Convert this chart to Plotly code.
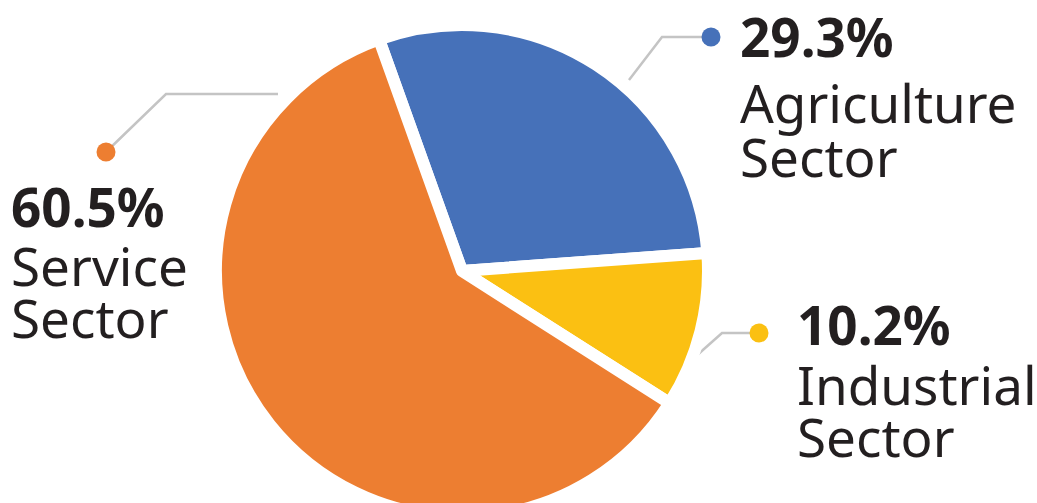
import plotly.graph_objects as go

# Employment share by sector (%)
sectors = ["Agriculture", "Industrial", "Service"]
shares = [29.3, 10.2, 60.5]
colors = ["#4671b9", "#fbc012", "#ed7e31"]

W, H = 1037, 520
cx, cy, r = 462, 271, 246          # pie centre and radius in pixels
TEXT = "#231f20"
FONT = "Noto Sans"

fig = go.Figure()

fig.add_trace(go.Pie(
    labels=[s + " Sector" for s in sectors],
    values=shares,
    sort=False,
    direction="clockwise",
    rotation=-19.7,
    marker=dict(colors=colors, line=dict(color="white", width=12)),
    textinfo="none",
    hoverinfo="label+value",
    showlegend=False,
    domain=dict(x=[(cx - r) / W, (cx + r) / W],
                y=[(H - cy - r) / H, (H - cy + r) / H]),
))

# leader lines (pixel coordinates): start near slice -> elbow -> dot
leaders = {
    "Agriculture": [(629, 80), (662, 37), (711, 37)],
    "Industrial": [(695, 357), (722, 333), (759, 333)],
    "Service": [(278, 94), (166, 94), (106, 152)],
}
# label blocks: left x, baselines of value line and two name lines
blocks = {
    "Agriculture": (738, 57, 123, 177),
    "Industrial": (795, 345, 405, 457),
    "Service": (9, 227, 286, 338),
}

for name, col in zip(sectors, colors):
    pts = leaders[name]
    fig.add_trace(go.Scatter(
        x=[p[0] for p in pts], y=[p[1] for p in pts],
        mode="lines", line=dict(color="#c4c4c4", width=2.5),
        hoverinfo="skip", showlegend=False))
    fig.add_trace(go.Scatter(
        x=[pts[-1][0]], y=[pts[-1][1]], mode="markers",
        marker=dict(color=col, size=19, line=dict(width=0)),
        hoverinfo="skip", showlegend=False))

FS = 53
off = 0.388 * FS  # baseline -> middle of text box
for name, val in zip(sectors, shares):
    x0, b0, b1, b2 = blocks[name]
    lines = [(f"<b>{val:.1f}%</b>", b0), (name, b1), ("Sector", b2)]
    for txt, base in lines:
        fig.add_annotation(
            x=x0, y=base - off, xref="x", yref="y",
            text=txt, showarrow=False, xanchor="left", yanchor="middle",
            font=dict(family=FONT, size=FS, color=TEXT))

fig.update_layout(
    width=W, height=H,
    margin=dict(l=0, r=0, t=0, b=0),
    paper_bgcolor="white", plot_bgcolor="white",
    xaxis=dict(range=[0, W], visible=False, fixedrange=True),
    yaxis=dict(range=[H, 0], visible=False, fixedrange=True),
)

fig.write_html(
    "out.html",
    post_script="document.documentElement.style.overflow='hidden';"
                "document.body.style.overflow='hidden';"
                "document.body.style.margin='0';",
)
